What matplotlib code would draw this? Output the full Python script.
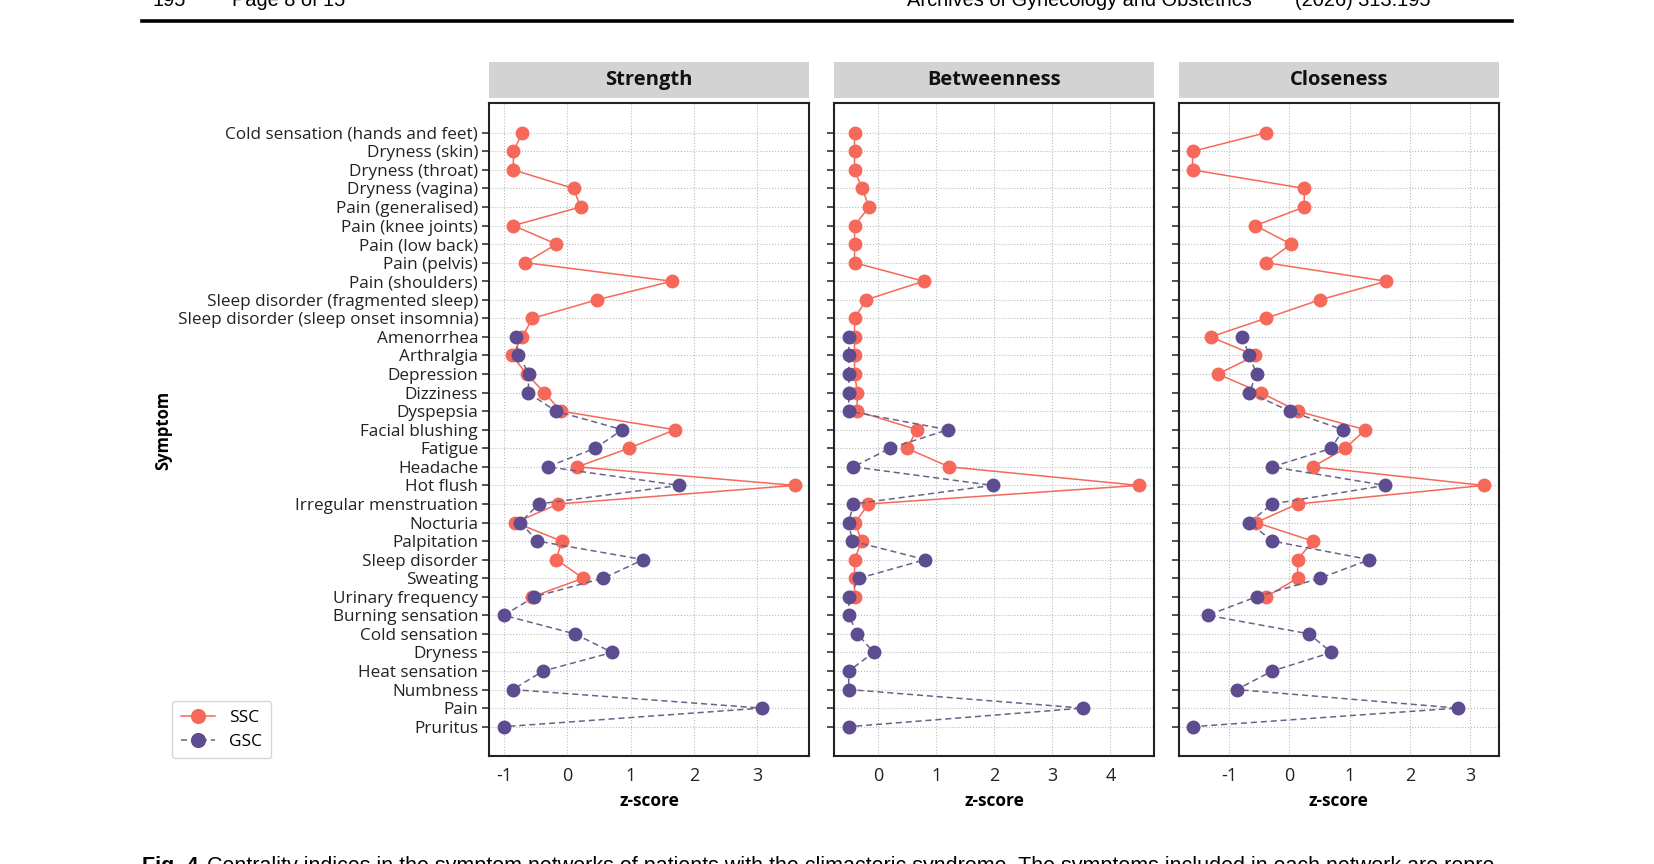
import matplotlib
matplotlib.use('Agg')
import matplotlib.pyplot as plt
from matplotlib.patches import Rectangle
from matplotlib.lines import Line2D
import numpy as np

plt.rcParams['font.family'] = ['Open Sans', 'DejaVu Sans']
plt.rcParams['axes.unicode_minus'] = False

nan = np.nan

symptoms = ['Cold sensation (hands and feet)', 'Dryness (skin)', 'Dryness (throat)', 'Dryness (vagina)',
            'Pain (generalised)', 'Pain (knee joints)', 'Pain (low back)', 'Pain (pelvis)', 'Pain (shoulders)',
            'Sleep disorder (fragmented sleep)', 'Sleep disorder (sleep onset insomnia)', 'Amenorrhea',
            'Arthralgia', 'Depression', 'Dizziness', 'Dyspepsia', 'Facial blushing', 'Fatigue', 'Headache',
            'Hot flush', 'Irregular menstruation', 'Nocturia', 'Palpitation', 'Sleep disorder', 'Sweating',
            'Urinary frequency', 'Burning sensation', 'Cold sensation', 'Dryness', 'Heat sensation',
            'Numbness', 'Pain', 'Pruritus']

# z-scores (nan = symptom not in that network)
strength_ssc = [-0.71, -0.85, -0.85, 0.10, 0.21, -0.85, -0.17, -0.66, 1.65, 0.47, -0.55,
                -0.71, -0.87, -0.64, -0.36, -0.10, 1.70, 0.97, 0.16, 3.59, -0.14, -0.82, -0.09, -0.17, 0.25, -0.55] + [nan] * 7
strength_gsc = [nan] * 11 + [-0.81, -0.77, -0.60, -0.62, -0.18, 0.87, 0.44, -0.31, 1.77, -0.45, -0.74,
                             -0.47, 1.20, 0.57, -0.52, -1.00, 0.12, 0.71, -0.38, -0.86, 3.07, -1.00]

betweenness_ssc = [-0.41, -0.41, -0.41, -0.28, -0.16, -0.41, -0.41, -0.41, 0.78, -0.21, -0.41,
                   -0.41, -0.41, -0.41, -0.36, -0.37, 0.67, 0.49, 1.22, 4.49, -0.17, -0.40, -0.29, -0.41, -0.41, -0.41] + [nan] * 7
betweenness_gsc = [nan] * 11 + [-0.51, -0.51, -0.51, -0.51, -0.51, 1.20, 0.20, -0.43, 1.97, -0.43, -0.51,
                                -0.45, 0.81, -0.33, -0.51, -0.51, -0.36, -0.08, -0.51, -0.51, 3.52, -0.51]

closeness_ssc = [-0.39, -1.60, -1.60, 0.25, 0.25, -0.56, 0.03, -0.39, 1.61, 0.51, -0.39,
                 -1.30, -0.56, -1.18, -0.47, 0.14, 1.26, 0.93, 0.39, 3.22, 0.14, -0.55, 0.39, 0.14, 0.14, -0.38] + [nan] * 7
closeness_gsc = [nan] * 11 + [-0.78, -0.66, -0.54, -0.66, 0.01, 0.89, 0.70, -0.28, 1.59, -0.28, -0.66,
                              -0.28, 1.33, 0.51, -0.54, -1.35, 0.33, 0.70, -0.28, -0.87, 2.79, -1.60]

panels = ['Strength', 'Betweenness', 'Closeness']
ssc_vals = [strength_ssc, betweenness_ssc, closeness_ssc]
gsc_vals = [strength_gsc, betweenness_gsc, closeness_gsc]
xlims = [(-1.23, 3.82), (-0.764, 4.75), (-1.83, 3.47)]
xticks = [[-1, 0, 1, 2, 3], [0, 1, 2, 3, 4], [-1, 0, 1, 2, 3]]

ssc_col = '#F6685A'
gsc_col = '#5E4C91'

W, H = 1654, 864
fig = plt.figure(figsize=(W / 100, H / 100), dpi=100)

lefts = [489.3, 834.0, 1178.7]
y = np.arange(len(symptoms))
axes = []
for i in range(3):
    ax = fig.add_axes([lefts[i] / W, 1 - 756 / H, 320 / W, (756 - 102.7) / H])
    axes.append(ax)
    ax.plot(ssc_vals[i], y, color=ssc_col, lw=1.1, marker='o', markersize=9,
            markerfacecolor=ssc_col, markeredgecolor=ssc_col, label='SSC', zorder=3)
    ax.plot(gsc_vals[i], y, color='#6A6288', lw=1.1, ls=(0, (4, 2.5)), marker='o', markersize=9,
            markerfacecolor=gsc_col, markeredgecolor=gsc_col, label='GSC', zorder=4)
    ax.set_xlim(xlims[i])
    ax.set_ylim(33.58, -1.62)
    ax.set_xticks(xticks[i])
    ax.set_yticks(y)
    if i == 0:
        ax.set_yticklabels(symptoms, fontsize=12.3, color='#222222')
    else:
        ax.set_yticklabels([])
    ax.tick_params(axis='y', length=5, width=1.2, pad=3, color='#333333')
    ax.tick_params(axis='x', length=0, pad=8, labelsize=13, labelcolor='#222222')
    ax.grid(True, ls=':', lw=0.8, color='#BBBBBB')
    ax.set_axisbelow(True)
    for s in ax.spines.values():
        s.set_linewidth(1.5)
        s.set_color('#222222')
    ax.set_xlabel('z-score', fontsize=12.5, fontweight='bold', labelpad=5)
    # facet strip
    ax.add_patch(Rectangle((0, 1.0069), 1, 0.0551, transform=ax.transAxes, facecolor='#D3D3D3',
                           edgecolor='none', clip_on=False))
    ax.text(0.5, 1.0069 + 0.0551 / 2, panels[i], transform=ax.transAxes, ha='center', va='center',
            fontsize=14.5, fontweight='bold', color='#111111')

fig.text(163 / W, 1 - 430 / H, 'Symptom', rotation=90, ha='center', va='center',
         fontsize=12, fontweight='bold')

handles, labels = axes[0].get_legend_handles_labels()
fig.legend(handles, labels, loc='upper left', bbox_to_anchor=(172 / W, 1 - 701 / H), fontsize=12.5,
           frameon=True, fancybox=True, edgecolor='#CCCCCC', handlelength=2.0, borderpad=0.5,
           labelspacing=0.45, borderaxespad=0, markerscale=1.1)

# page header and caption (cut by the page edge as in the scan)
hdr_font = ['Liberation Sans', 'DejaVu Sans']
fig.text(153 / W, 1 - 6 / H, '195', fontsize=14.4, family=hdr_font, va='baseline')
fig.text(232 / W, 1 - 6 / H, 'Page 8 of 15', fontsize=14.4, family=hdr_font, va='baseline')
fig.text(907 / W, 1 - 6 / H, 'Archives of Gynecology and Obstetrics', fontsize=14.4, family=hdr_font, va='baseline')
fig.text(1295 / W, 1 - 6 / H, '(2026) 313:195', fontsize=14.4, family=hdr_font, va='baseline')
fig.add_artist(Line2D([142 / W, 1512 / W], [1 - 21 / H, 1 - 21 / H], transform=fig.transFigure,
                      color='black', lw=2.6))

fig.text(142 / W, 1 - 856 / H, 'Fig. 4', fontsize=15.5, fontweight='bold', family='Liberation Sans', va='top')
fig.text(207 / W, 1 - 856 / H,
         'Centrality indices in the symptom networks of patients with the climacteric syndrome. '
         'The symptoms included in each network are repre',
         fontsize=15.5, family='Liberation Sans', va='top')

plt.savefig('out.png', dpi=100)
